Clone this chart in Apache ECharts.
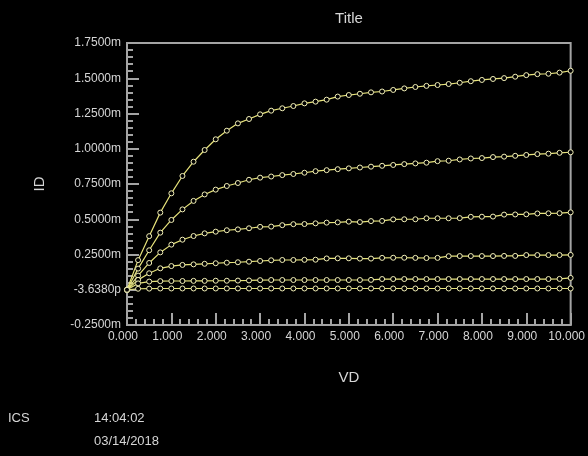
<!DOCTYPE html>
<html>
<head>
<meta charset="utf-8">
<title>ID vs VD</title>
<script src="https://cdn.jsdelivr.net/npm/echarts@6/dist/echarts.min.js"></script>
<style>
  html, body { margin: 0; padding: 0; background: #000; }
  #chart { width: 588px; height: 456px; }
</style>
</head>
<body>
<div id="chart"></div>
<script>
// Drain voltage sweep, 0 V to 10 V in 0.25 V steps
const vd = [];
for (let i = 0; i <= 40; i++) vd.push(i * 0.25);

// Drain current per gate step, in mA
const id1 = [0, 0.21, 0.38, 0.547, 0.684, 0.807, 0.908, 0.991, 1.067, 1.128, 1.180, 1.211, 1.244, 1.270, 1.287, 1.303, 1.322, 1.334, 1.348, 1.370, 1.381, 1.390, 1.400, 1.406, 1.417, 1.428, 1.438, 1.446, 1.452, 1.459, 1.468, 1.479, 1.488, 1.495, 1.501, 1.511, 1.522, 1.529, 1.532, 1.540, 1.553];
const id2 = [0, 0.15, 0.28, 0.405, 0.495, 0.570, 0.630, 0.676, 0.710, 0.736, 0.757, 0.780, 0.795, 0.803, 0.813, 0.821, 0.830, 0.841, 0.848, 0.855, 0.861, 0.867, 0.873, 0.879, 0.885, 0.891, 0.896, 0.901, 0.912, 0.915, 0.924, 0.931, 0.934, 0.941, 0.944, 0.950, 0.956, 0.962, 0.965, 0.971, 0.975];
const id3 = [0, 0.10, 0.19, 0.265, 0.320, 0.355, 0.381, 0.400, 0.412, 0.422, 0.428, 0.436, 0.446, 0.448, 0.458, 0.465, 0.466, 0.471, 0.476, 0.478, 0.483, 0.480, 0.487, 0.488, 0.499, 0.500, 0.500, 0.507, 0.507, 0.507, 0.508, 0.517, 0.518, 0.519, 0.533, 0.534, 0.535, 0.541, 0.542, 0.543, 0.549];
const id4 = [0, 0.07, 0.117, 0.152, 0.168, 0.176, 0.180, 0.184, 0.188, 0.192, 0.195, 0.199, 0.204, 0.209, 0.211, 0.211, 0.212, 0.213, 0.222, 0.223, 0.223, 0.221, 0.221, 0.226, 0.227, 0.227, 0.226, 0.225, 0.226, 0.238, 0.239, 0.239, 0.239, 0.239, 0.240, 0.240, 0.246, 0.246, 0.246, 0.246, 0.247];
const id5 = [0, 0.045, 0.058, 0.061, 0.062, 0.062, 0.063, 0.063, 0.064, 0.064, 0.065, 0.066, 0.068, 0.069, 0.069, 0.069, 0.069, 0.069, 0.069, 0.069, 0.069, 0.069, 0.070, 0.076, 0.076, 0.076, 0.076, 0.076, 0.076, 0.076, 0.076, 0.076, 0.076, 0.076, 0.076, 0.076, 0.076, 0.076, 0.076, 0.077, 0.084];
const id6 = [0, 0.007, 0.008, 0.009, 0.009, 0.009, 0.009, 0.009, 0.009, 0.009, 0.009, 0.009, 0.009, 0.009, 0.009, 0.009, 0.009, 0.009, 0.009, 0.009, 0.009, 0.009, 0.009, 0.009, 0.009, 0.009, 0.009, 0.009, 0.009, 0.009, 0.009, 0.009, 0.009, 0.009, 0.009, 0.009, 0.009, 0.009, 0.009, 0.009, 0.009];
const curves = [id1, id2, id3, id4, id5, id6];

// Text shown on the page
const titleText = 'Title';
const xName = 'VD';
const yName = 'ID';
const zeroLabel = '-3.6380p';
const footer = { source: 'ICS', time: '14:04:02', date: '03/14/2018' };

const axisGray = '#a4a4a4';
const textGray = '#d6d6d6';
const lineYellow = '#e6e27a';
const markerYellow = '#f3f0b8';
const font = 'Liberation Sans, Arial, sans-serif';

const chart = echarts.init(document.getElementById('chart'));

const series = curves.map((c, k) => ({
  type: 'line',
  name: 'VG' + (k + 1),
  data: vd.map((v, i) => [v, c[i]]),
  symbol: 'circle',
  symbolSize: 5,
  showSymbol: true,
  lineStyle: { color: lineYellow, width: 1.2 },
  itemStyle: { color: '#000', borderColor: markerYellow, borderWidth: 1 },
  emphasis: { disabled: true },
  animation: false,
  z: 3
}));

chart.setOption({
  backgroundColor: '#000',
  animation: false,
  grid: {
    left: 127, right: 16, top: 43, bottom: 131,
    show: true, borderColor: axisGray, borderWidth: 2,
    backgroundColor: 'transparent'
  },
  xAxis: {
    type: 'value', min: 0, max: 10, interval: 1,
    name: xName, nameLocation: 'middle', nameGap: 45,
    nameTextStyle: { color: textGray, fontSize: 15, fontFamily: font },
    axisLine: { show: true, onZero: false, lineStyle: { color: axisGray, width: 2 } },
    axisTick: { show: true, inside: true, length: 12, lineStyle: { color: axisGray, width: 2 } },
    minorTick: { show: true, splitNumber: 5, length: 6, lineStyle: { color: axisGray, width: 2 } },
    splitLine: { show: false },
    axisLabel: {
      color: textGray, fontSize: 12, fontFamily: font, margin: 6,
      padding: [0, 8, 0, 0],
      formatter: v => v.toFixed(3)
    }
  },
  yAxis: {
    type: 'value', min: -0.25, max: 1.75, interval: 0.25,
    name: yName, nameLocation: 'middle', nameGap: 80, nameRotate: 90,
    nameTextStyle: { color: textGray, fontSize: 15, fontFamily: font },
    axisLine: { show: true, onZero: false, lineStyle: { color: axisGray, width: 2 } },
    axisTick: { show: true, inside: true, length: 12, lineStyle: { color: axisGray, width: 2 } },
    minorTick: { show: true, splitNumber: 5, length: 6, lineStyle: { color: axisGray, width: 2 } },
    splitLine: { show: false },
    axisLabel: {
      color: textGray, fontSize: 12, fontFamily: font, margin: 6,
      padding: [0, 0, 10, 0],
      formatter: v => Math.abs(v) < 1e-9 ? zeroLabel : v.toFixed(4) + 'm'
    }
  },
  graphic: [
    { type: 'text', x: 349, y: 19, style: { text: titleText, fill: textGray, font: '15px ' + font, align: 'center', verticalAlign: 'middle' } },
    { type: 'text', x: 8, y: 418, style: { text: footer.source, fill: textGray, font: '13px ' + font, align: 'left', verticalAlign: 'middle' } },
    { type: 'text', x: 94, y: 418, style: { text: footer.time, fill: textGray, font: '13px ' + font, align: 'left', verticalAlign: 'middle' } },
    { type: 'text', x: 94, y: 441, style: { text: footer.date, fill: textGray, font: '13px ' + font, align: 'left', verticalAlign: 'middle' } }
  ],
  series: series
});
</script>
</body>
</html>
